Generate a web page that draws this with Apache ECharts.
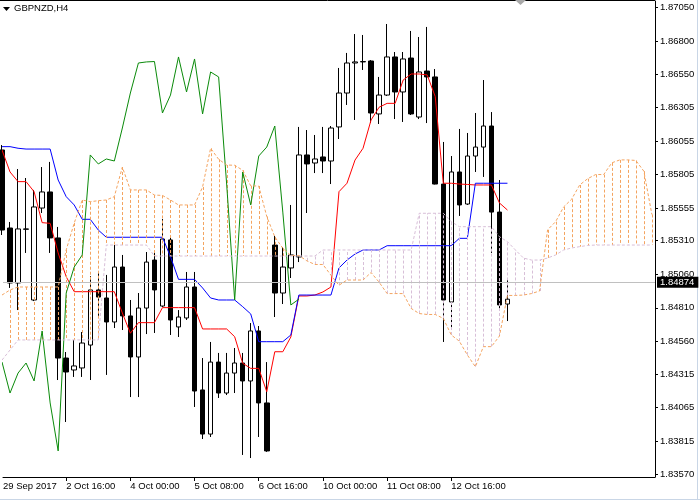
<!DOCTYPE html>
<html><head><meta charset="utf-8">
<script src="https://cdn.jsdelivr.net/npm/echarts@6/dist/echarts.min.js"></script>
<style>html,body{margin:0;padding:0;background:#fff}#c{width:700px;height:501px}</style>
</head><body><div id="c"></div>
<script>
// ---------- data ----------
const symbolTitle = 'GBPNZD,H4';
const timeLabelBars = [0, 8, 16, 24, 32, 40, 48, 56];
const timeLabels = ['29 Sep 2017', '2 Oct 16:00', '4 Oct 00:00', '5 Oct 08:00', '6 Oct 16:00', '10 Oct 00:00', '11 Oct 08:00', '12 Oct 16:00'];
const priceTicks = [1.87050, 1.86800, 1.86550, 1.86305, 1.86055, 1.85805, 1.85555, 1.85310, 1.85060, 1.84810, 1.84560, 1.84315, 1.84065, 1.83815, 1.83570];
const lastPrice = 1.84874;

const opens = [1.85987,1.85405,1.84995,1.85398,1.84868,1.85554,1.85674,1.85331,1.84435,1.84346,
1.84361,1.84532,1.84943,1.84883,1.84704,1.85114,1.84749,1.84443,1.84808,1.85166,
1.84823,1.85316,1.84667,1.84734,1.84965,1.84197,1.83868,1.84405,1.84174,1.84323,
1.84398,1.84264,1.84637,1.84100,1.85278,1.84920,1.85107,1.85189,1.85950,1.85890,
1.85935,1.85905,1.86159,1.86412,1.86636,1.86644,1.86651,1.86256,1.86397,1.86681,
1.86420,1.86673,1.86233,1.86576,1.86532,1.85733,1.84853,1.85823,1.85584,1.85942,
1.86009,1.86166,1.85524,1.84838];
const closes = [1.85390,1.84995,1.85398,1.85396,1.85562,1.85674,1.85331,1.84435,1.84331,1.84376,
1.84547,1.84943,1.84890,1.84704,1.85114,1.84749,1.84443,1.84808,1.85151,1.84943,
1.85323,1.84719,1.84741,1.84965,1.84189,1.83868,1.84405,1.84174,1.84323,1.84398,
1.84264,1.84637,1.84100,1.83742,1.84920,1.85114,1.85204,1.85950,1.85883,1.85920,
1.85905,1.86151,1.86412,1.86636,1.86644,1.86647,1.86263,1.86397,1.86681,1.86420,
1.86666,1.86256,1.86569,1.86532,1.85733,1.84868,1.85823,1.85577,1.85942,1.86009,
1.86166,1.85524,1.84831,1.84874];
const lows = [1.85353,1.84958,1.84793,1.85219,1.84860,1.85517,1.85219,1.84271,1.83958,1.84294,
1.84294,1.84271,1.84741,1.84309,1.84659,1.84644,1.84144,1.84144,1.84614,1.84622,
1.84815,1.84607,1.84592,1.84719,1.84070,1.83831,1.83846,1.84137,1.84159,1.84174,
1.83712,1.83689,1.83846,1.83735,1.84741,1.84838,1.85032,1.85151,1.85517,1.85815,
1.85815,1.85733,1.86069,1.86323,1.86211,1.86584,1.86188,1.86181,1.86390,1.86218,
1.86196,1.86248,1.86218,1.86188,1.85730,1.84555,1.84667,1.85495,1.85577,1.85823,
1.85786,1.85219,1.84793,1.84711];
const highs = [1.86024,1.85450,1.85845,1.85778,1.85689,1.85860,1.85898,1.85413,1.84480,1.84570,
1.84629,1.85047,1.85069,1.85055,1.85278,1.85204,1.84868,1.84920,1.85226,1.85226,
1.85472,1.85353,1.84793,1.85077,1.85077,1.84435,1.84555,1.84473,1.84473,1.84510,
1.84473,1.84696,1.84674,1.84405,1.85345,1.85263,1.85577,1.86159,1.86136,1.86099,
1.86159,1.86166,1.86599,1.86711,1.86852,1.86845,1.86658,1.86532,1.86927,1.86718,
1.86718,1.86875,1.86830,1.86905,1.86591,1.86047,1.85942,1.86144,1.86114,1.86263,
1.86509,1.86270,1.85763,1.85017];

const tenkan = [1.85987,1.85823,1.85751,1.85751,1.85676,1.85445,1.85440,1.85219,1.85042,1.84930,
1.84930,1.84930,1.84930,1.84930,1.84930,1.84771,1.84620,1.84699,1.84699,1.84699,
1.84811,1.84811,1.84811,1.84811,1.84811,1.84652,1.84652,1.84652,1.84652,1.84594,
1.84396,1.84358,1.84358,1.84184,1.84482,1.84482,1.84592,1.84898,1.84898,1.84905,
1.84928,1.84965,1.85676,1.85739,1.85912,1.86000,1.86211,1.86306,1.86335,1.86335,
1.86509,1.86554,1.86554,1.86547,1.86385,1.85739,1.85739,1.85733,1.85730,1.85726,
1.85726,1.85726,1.85592,1.85539];
const kijun = [1.86012,1.86012,1.86000,1.85994,1.85994,1.85994,1.85994,1.85763,1.85639,1.85577,
1.85470,1.85470,1.85390,1.85336,1.85336,1.85336,1.85336,1.85336,1.85336,1.85336,
1.85336,1.85191,1.85022,1.85022,1.85022,1.84958,1.84883,1.84868,1.84868,1.84868,
1.84818,1.84764,1.84557,1.84557,1.84557,1.84557,1.84607,1.84905,1.84905,1.84905,
1.84905,1.84905,1.85107,1.85166,1.85211,1.85241,1.85241,1.85241,1.85273,1.85273,
1.85273,1.85273,1.85273,1.85273,1.85273,1.85273,1.85273,1.85328,1.85328,1.85739,
1.85739,1.85739,1.85739,1.85739];
const chikou = [1.84405,1.84174,1.84323,1.84398,1.84264,1.84637,1.84100,1.83742,1.84920,1.85114,
1.85204,1.85950,1.85883,1.85920,1.85905,1.86151,1.86412,1.86636,1.86644,1.86647,
1.86263,1.86397,1.86681,1.86420,1.86666,1.86256,1.86569,1.86532,1.85733,1.84868,
1.85823,1.85577,1.85942,1.86009,1.86166,1.85524,1.84831,1.84874];
const spanA = [1.84905,1.84943,1.84965,1.84965,1.84965,1.84965,1.84965,1.84965,1.85241,1.85442,
1.85614,1.85601,1.85609,1.85614,1.85639,1.85860,1.85689,1.85689,1.85689,1.85651,
1.85648,1.85614,1.85577,1.85577,1.85577,1.85711,1.86000,1.85918,1.85875,1.85873,
1.85836,1.85720,1.85718,1.85491,1.85339,1.85254,1.85200,1.85200,1.85160,1.85133,
1.85133,1.85053,1.84978,1.85017,1.85017,1.85017,1.85073,1.85001,1.84916,1.84916,
1.84916,1.84805,1.84767,1.84760,1.84760,1.84731,1.84607,1.84561,1.84458,1.84370,
1.84520,1.84520,1.84599,1.84902,1.84902,1.84905,1.84916,1.84935,1.85391,1.85452,
1.85562,1.85620,1.85726,1.85773,1.85804,1.85804,1.85891,1.85913,1.85913,1.85909,
1.85829,1.85506];
const spanB = [1.84420,1.84495,1.84570,1.84570,1.84570,1.84570,1.84570,1.84570,1.84570,1.84570,
1.84570,1.84570,1.84570,1.85278,1.85278,1.85278,1.85278,1.85278,1.85278,1.85196,
1.85196,1.85196,1.85196,1.85196,1.85196,1.85196,1.85196,1.85196,1.85196,1.85196,
1.85196,1.85196,1.85196,1.85196,1.85196,1.85196,1.85196,1.85196,1.85196,1.85196,
1.85241,1.85241,1.85241,1.85241,1.85241,1.85241,1.85241,1.85241,1.85241,1.85241,
1.85241,1.85241,1.85515,1.85515,1.85515,1.85515,1.85452,1.85415,1.85415,1.85415,
1.85415,1.85415,1.85340,1.85303,1.85241,1.85181,1.85166,1.85166,1.85181,1.85204,
1.85241,1.85256,1.85266,1.85275,1.85278,1.85278,1.85278,1.85278,1.85278,1.85278,
1.85278,1.85278];

// ---------- chart ----------
const FONT = 'Liberation Sans';
const xMin = 0.124, xMax = 81.39;
const yMin = 1.835476, yMax = 1.870985;

const candleData = opens.map((o, i) => [i, o, closes[i], lows[i], highs[i]]);
const toPairs = arr => arr.map((v, i) => [i, v]);
const cloudData = spanA.map((a, i) => [i, a, spanB[i]]);

const chart = echarts.init(document.getElementById('c'), null, {renderer: 'canvas'});
chart.setOption({
  animation: false,
  backgroundColor: '#ffffff',
  grid: {left: 0, right: 45, top: 1, bottom: 24},
  xAxis: {
    type: 'value', min: xMin, max: xMax,
    axisLine: {show: true, onZero: false, lineStyle: {color: '#000', width: 1}},
    axisTick: {show: true, customValues: timeLabelBars.slice(1), length: 4, lineStyle: {color: '#000'}},
    axisLabel: {
      customValues: [xMin].concat(timeLabelBars.slice(1)),
      formatter: v => { const i = timeLabelBars.indexOf(Math.round(v)); return i >= 0 ? timeLabels[i] : ''; },
      align: 'left', margin: 4, color: '#000', fontFamily: FONT, fontSize: 9.5
    },
    splitLine: {show: false}
  },
  yAxis: {
    type: 'value', position: 'right', min: yMin, max: yMax,
    axisLine: {show: true, onZero: false, lineStyle: {color: '#000', width: 1}},
    axisTick: {show: true, customValues: priceTicks, length: 3, lineStyle: {color: '#000'}},
    axisLabel: {customValues: priceTicks, formatter: v => v.toFixed(5), margin: 5, color: '#000', fontFamily: FONT, fontSize: 9.5},
    splitLine: {show: false}
  },
  graphic: [
    {type: 'line', shape: {x1: 0, y1: 0.5, x2: 655, y2: 0.5}, style: {stroke: '#000', lineWidth: 1}, silent: true},
    {type: 'polygon', shape: {points: [[3, 7], [10, 7], [6.5, 11]]}, style: {fill: '#000'}, silent: true},
    {type: 'text', left: 14, top: 3, style: {text: symbolTitle, fill: '#000', font: '9.5px ' + FONT}, silent: true},
    {type: 'polygon', shape: {points: [[515, 0], [526, 0], [520.5, 5]]}, style: {fill: '#a8a8a8'}, silent: true},
    {type: 'line', shape: {x1: 0, y1: 499.5, x2: 700, y2: 499.5}, style: {stroke: '#c9d6e6', lineWidth: 1}, silent: true},
    {type: 'line', shape: {x1: 697.5, y1: 0, x2: 697.5, y2: 500}, style: {stroke: '#c9d6e6', lineWidth: 1}, silent: true}
  ],
  series: [
    {
      type: 'candlestick', data: candleData, encode: {x: 0, y: [1, 2, 3, 4]},
      barWidth: 5, silent: true, z: 2,
      itemStyle: {color: '#ffffff', color0: '#000000', borderColor: '#000000', borderColor0: '#000000', borderWidth: 1},
      markLine: {
        silent: true, symbol: ['none', 'none'], animation: false,
        lineStyle: {color: '#c0c0c0', type: 'solid', width: 1},
        label: {position: 'end', distance: 2, formatter: () => lastPrice.toFixed(5), backgroundColor: '#000', color: '#fff',
                fontFamily: FONT, fontSize: 9.5, padding: [1, 4, 0, 3], lineHeight: 10},
        data: [{yAxis: lastPrice}]
      }
    },
    {type: 'line', data: toPairs(tenkan), symbol: 'none', silent: true, z: 3, lineStyle: {color: '#ff0000', width: 1}},
    {type: 'line', data: toPairs(kijun), symbol: 'none', silent: true, z: 3, lineStyle: {color: '#0000ff', width: 1}},
    {
      type: 'custom', data: cloudData, encode: {x: 0, y: [1, 2]}, silent: true, z: 4, clip: true,
      renderItem: (params, api) => {
        const k = api.value(0), a = api.value(1), b = api.value(2);
        const p1 = api.coord([k, a]), p2 = api.coord([k, b]);
        const x = Math.round(p1[0]) + 0.5;
        return {type: 'line', shape: {x1: x, y1: p1[1], x2: x, y2: p2[1]},
                style: {stroke: a >= b ? '#F4A460' : '#D8BFD8', lineWidth: 1, lineDash: [3, 2]}};
      }
    },
    {type: 'line', data: toPairs(chikou), symbol: 'none', silent: true, z: 5, lineStyle: {color: '#0a8a0a', width: 1}},
    {type: 'line', data: toPairs(spanA), symbol: 'none', silent: true, z: 6, lineStyle: {color: '#F4A460', width: 1, type: [3, 2]}},
    {type: 'line', data: toPairs(spanB), symbol: 'none', silent: true, z: 6, lineStyle: {color: '#D8BFD8', width: 1, type: [3, 2]}}
  ]
});
</script>
</body></html>
